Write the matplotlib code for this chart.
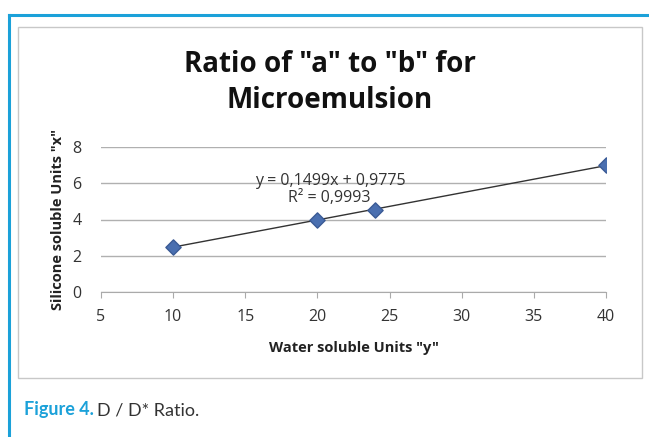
import matplotlib.pyplot as plt
from matplotlib.patches import Rectangle
from matplotlib.lines import Line2D
import numpy as np

# Data
water_units = [10, 20, 24, 40]
silicone_units = [2.5, 4.0, 4.5, 7.0]
x_ticks = [5, 10, 15, 20, 25, 30, 35, 40]
y_ticks = [0, 2, 4, 6, 8]

slope, intercept = np.polyfit(water_units, silicone_units, 1)
fit_y = np.polyval([slope, intercept], water_units)
r2 = 1 - np.sum((np.array(silicone_units) - fit_y) ** 2) / np.sum((np.array(silicone_units) - np.mean(silicone_units)) ** 2)

W, H = 649, 437
fig = plt.figure(figsize=(W / 100, H / 100), dpi=100)
fig.patch.set_facecolor('white')

# blue frame (top and left lines)
blue = '#1ba1d9'
fig.add_artist(Line2D([9 / W, 1], [1 - 15 / H, 1 - 15 / H], color=blue, lw=2.2))
fig.add_artist(Line2D([9 / W, 9 / W], [0, 1 - 15 / H], color=blue, lw=2.2))

# chart box
fig.add_artist(Rectangle((18 / W, 1 - 378 / H), (642 - 18) / W, (378 - 27) / H,
                         facecolor='white', edgecolor='#c8c8c8', lw=1.0, zorder=-5))

# plot area
left, right, top, bottom = 101, 606, 147, 292
ax = fig.add_axes([left / W, 1 - bottom / H, (right - left) / W, (bottom - top) / H])
ax.set_zorder(2)
ax.patch.set_alpha(0)
ax.set_xlim(5, 40)
ax.set_ylim(0, 8)

font = 'Open Sans'
ax.set_xticks(x_ticks)
ax.set_yticks(y_ticks)
ax.tick_params(axis='x', length=4, color='#aaaaaa', labelsize=11.5, pad=8, labelcolor='#333333')
ax.tick_params(axis='y', length=0, labelsize=11.5, pad=14, labelcolor='#333333')
for lbl in ax.get_xticklabels() + ax.get_yticklabels():
    lbl.set_family(font)

for s in ['top', 'right', 'left']:
    ax.spines[s].set_visible(False)
ax.spines['bottom'].set_color('#aaaaaa')
ax.grid(True, axis='y', color='#b0b0b0', lw=1.0)
ax.set_axisbelow(True)

# trendline and points
xs = np.array([min(water_units), max(water_units)])
ax.plot(xs, slope * xs + intercept, color='#333333', lw=1.0, zorder=2)
ax.scatter(water_units, silicone_units, marker='D', s=60, color='#4a6fb0',
           edgecolor='#3a5a95', zorder=3)

ax.text(20.9, 6.15, f'y = {slope:.4f}x + {intercept:.4f}'.replace('.', ','),
        ha='center', va='center', fontsize=11.5, family=font, color='#333333')
ax.text(20.8, 5.2, f'R² = {r2:.4f}'.replace('.', ','),
        ha='center', va='center', fontsize=11.5, family=font, color='#333333')

ax.set_xlabel('Water soluble Units "y"', fontsize=10.5, fontweight='bold', family=font,
              labelpad=12, color='#222222')
ax.set_ylabel('Silicone soluble Units "x"', fontsize=10.5, fontweight='bold', family=font,
              labelpad=5, color='#222222')

fig.text(330 / W, 1 - 64 / H, 'Ratio of "a" to "b" for', ha='center', va='center',
         fontsize=20, fontweight='bold', family=font, color='#111111')
fig.text(330 / W, 1 - 101 / H, 'Microemulsion', ha='center', va='center',
         fontsize=20, fontweight='bold', family=font, color='#111111')

# caption
fig.text(24 / W, 1 - 410 / H, 'Figure 4.', ha='left', va='center', fontsize=13,
         fontweight='bold', family='Lato', color=blue)
fig.text(97 / W, 1 - 410 / H, 'D / D* Ratio.', ha='left', va='center', fontsize=13,
         family='Lato', color='#333333')

fig.savefig('out.png', dpi=100)
